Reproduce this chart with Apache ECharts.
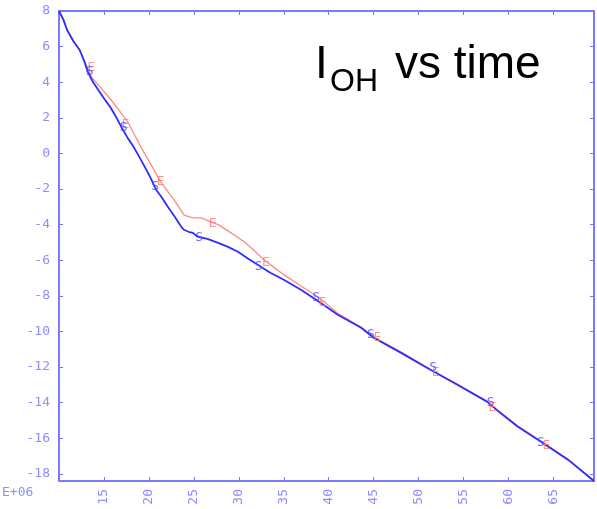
<!DOCTYPE html>
<html>
<head>
<meta charset="UTF-8">
<style>
	html, body { margin: 0; padding: 0; background: #fff; }
	#main { width: 597px; height: 509px; }
</style>
</head>
<body>
	<div id="main"></div>
	<script src="https://cdn.jsdelivr.net/npm/echarts@6/dist/echarts.min.js"></script>
<script>
	// time in units of 1E+06, I_OH value
	var blueT = [10.0, 10.5, 10.9, 11.6, 12.3, 12.8, 13.2, 13.8, 14.6, 15.2, 15.7, 16.4, 17.0, 17.6, 18.3, 19.1, 19.9, 20.3, 20.8, 21.4, 22.1, 22.8, 23.6, 23.9, 24.4, 24.9, 25.4, 26.5, 27.7, 28.8, 29.9, 31.0, 32.1, 33.5, 35.0, 36.9, 38.6, 41.0, 43.6, 45.0, 48.0, 51.3, 54.3, 57.6, 58.9, 61.0, 63.6, 66.6, 69.5];
	var blueV = [8.0, 7.5, 6.93, 6.3, 5.81, 5.2, 4.58, 4.0, 3.40, 2.95, 2.61, 2.0, 1.43, 0.9, 0.37, -0.35, -1.09, -1.5, -2.04, -2.45, -3.0, -3.5, -4.12, -4.29, -4.40, -4.46, -4.68, -4.80, -5.02, -5.25, -5.52, -5.90, -6.25, -6.70, -7.10, -7.66, -8.22, -9.06, -9.79, -10.35, -11.19, -12.15, -12.99, -13.94, -14.50, -15.34, -16.19, -17.20, -18.40];

	var redT = [10.0, 10.5, 10.9, 11.6, 12.3, 12.8, 13.6, 14.7, 15.8, 16.8, 17.7, 18.4, 19.1, 20.2, 21.3, 22.8, 23.9, 24.4, 25.0, 25.8, 26.9, 27.7, 29.1, 30.6, 31.7, 32.8, 33.9, 35.0, 36.9, 38.8, 41.0, 43.6, 45.0, 48.0, 51.3, 54.3, 57.6, 58.9, 61.0, 63.6, 66.6, 69.5];
	var redV = [8.0, 7.5, 6.93, 6.3, 5.81, 5.2, 4.3, 3.65, 3.0, 2.35, 1.71, 1.05, 0.37, -0.6, -1.6, -2.61, -3.45, -3.55, -3.62, -3.62, -3.85, -4.0, -4.45, -4.96, -5.45, -5.97, -6.40, -6.81, -7.45, -8.05, -8.98, -9.75, -10.30, -11.15, -12.12, -12.95, -13.92, -14.48, -15.30, -16.15, -17.17, -18.40];

	// positions of the S / E tags drawn on the curves
	var sTagT = [13.4, 17.2, 20.7, 25.6, 32.2, 38.6, 44.7, 51.6, 58.0, 63.6];
	var sTagV = [4.58, 1.43, -1.88, -4.74, -6.37, -8.10, -10.18, -12.03, -14.00, -16.24];
	var eTagT = [13.6, 17.4, 21.3, 27.1, 33.0, 39.3, 45.4, 51.9, 58.2, 64.2];
	var eTagV = [4.80, 1.60, -1.60, -3.95, -6.14, -8.39, -10.35, -12.30, -14.30, -16.40];

	var xTickLabels = ['15', '20', '25', '30', '35', '40', '45', '50', '55', '60', '65'];
	var yTicks = [-18, -16, -14, -12, -10, -8, -6, -4, -2, 0, 2, 4, 6, 8];

	function pairs(a, b) {
		var out = [];
		for (var i = 0; i < a.length; i++) out.push([a[i], b[i]]);
		return out;
	}

	var axisBlue = '#7474ff';
	var labelBlue = '#8c8cff';
	var mono = 'DejaVu Sans Mono';

	function yAxisDef(pos, labels) {
		return {
			type : 'value',
			min : -18.4,
			max : 8,
			position : pos,
			axisLine : { show : true, onZero : false, lineStyle : { color : axisBlue, width : 1.6 } },
			axisTick : { show : true, inside : true, length : 4, customValues : yTicks, lineStyle : { color : axisBlue } },
			splitLine : { show : false },
			axisLabel : {
				show : labels,
				color : labelBlue,
				fontFamily : mono,
				fontSize : 13,
				margin : 9,
				customValues : yTicks
			}
		};
	}

	var myChart = echarts.init(document.getElementById('main'));
	myChart.setOption({
		animation : false,
		grid : {
			left : 59,
			right : 3,
			top : 11,
			bottom : 28,
			show : true,
			borderColor : axisBlue,
			borderWidth : 1.5
		},
		graphic : [
			{ type : 'text', x : 315, y : 65,
				style : { text : 'I', font : '46px "Liberation Sans"', fill : '#000', verticalAlign : 'middle' } },
			{ type : 'text', x : 330, y : 82,
				style : { text : 'OH', font : '32px "Liberation Sans"', fill : '#000', verticalAlign : 'middle' } },
			{ type : 'text', x : 395, y : 65,
				style : { text : 'vs time', font : '46px "Liberation Sans"', fill : '#000', verticalAlign : 'middle' } },
			{ type : 'text', x : 2, y : 493,
				style : { text : 'E+06', font : '13px "DejaVu Sans Mono"', fill : labelBlue, verticalAlign : 'middle' } }
		],
		xAxis : [ {
			type : 'value',
			min : 10,
			max : 69.5,
			interval : 5,
			position : 'bottom',
			axisLine : { onZero : false, lineStyle : { color : axisBlue, width : 1.6 } },
			axisTick : { inside : true, length : 4, lineStyle : { color : axisBlue } },
			splitLine : { show : false },
			axisLabel : {
				rotate : 90,
				margin : 8,
				color : labelBlue,
				fontFamily : mono,
				fontSize : 13,
				showMaxLabel : false,
				formatter : function (v) {
					var s = String(v);
					return xTickLabels.indexOf(s) >= 0 ? s : '';
				}
			}
		}, {
			type : 'value',
			min : 10,
			max : 69.5,
			interval : 5,
			position : 'top',
			axisLine : { onZero : false, lineStyle : { color : axisBlue, width : 1.5 } },
			axisTick : { inside : true, length : 4, lineStyle : { color : axisBlue } },
			axisLabel : { show : false },
			splitLine : { show : false }
		} ],
		yAxis : [ yAxisDef('left', true), yAxisDef('right', false) ],
		series : [ {
			type : 'line',
			data : pairs(redT, redV),
			showSymbol : false,
			lineStyle : { color : '#ff8a82', width : 1.3 },
			z : 2
		}, {
			type : 'line',
			data : pairs(blueT, blueV),
			showSymbol : false,
			lineStyle : { color : '#2d2dff', width : 1.8 },
			z : 3
		}, {
			type : 'scatter',
			data : pairs(eTagT, eTagV),
			symbolSize : 1,
			itemStyle : { color : 'rgba(0,0,0,0)' },
			label : { show : true, position : 'inside', formatter : 'E', color : '#ff7a72', fontFamily : mono, fontSize : 13 },
			z : 4
		}, {
			type : 'scatter',
			data : pairs(sTagT, sTagV),
			symbolSize : 1,
			itemStyle : { color : 'rgba(0,0,0,0)' },
			label : { show : true, position : 'inside', formatter : 'S', color : '#4a4aff', fontFamily : mono, fontSize : 13 },
			z : 5
		} ]
	});
</script>
</body>
</html>
